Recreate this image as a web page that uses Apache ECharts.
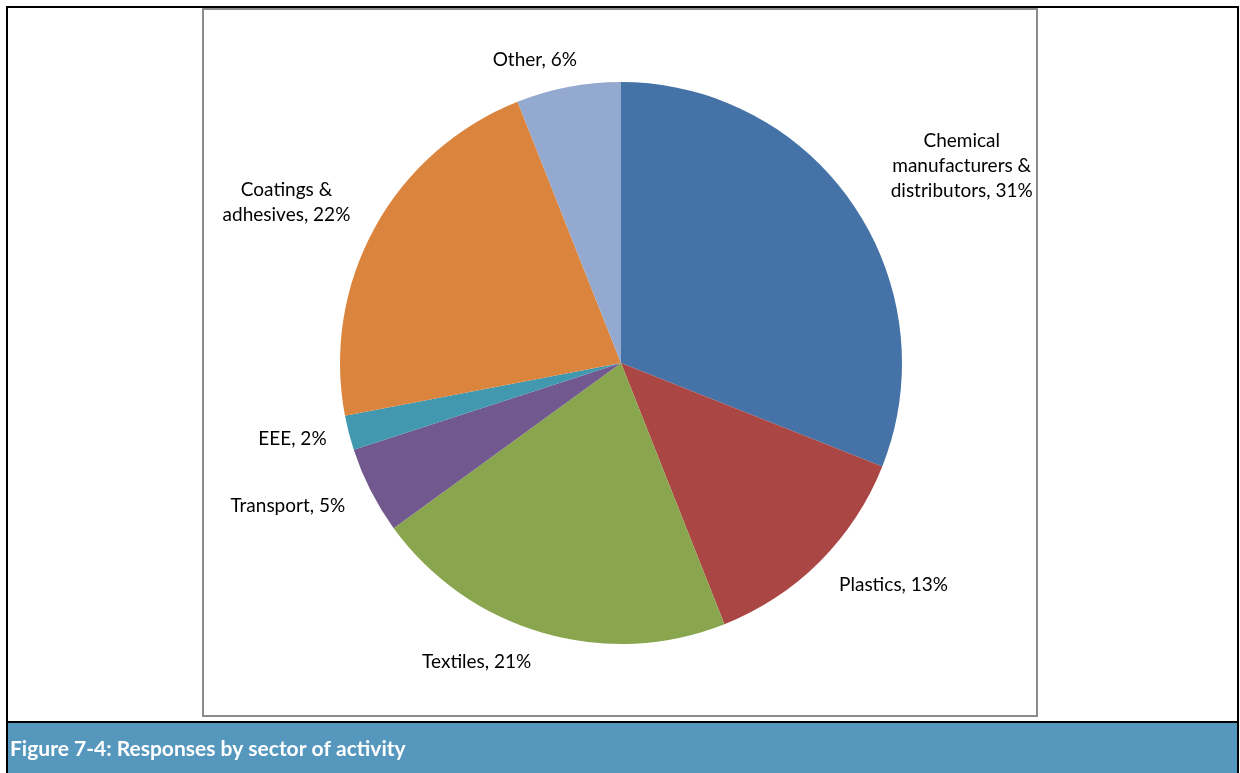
<!DOCTYPE html>
<html>
<head>
<meta charset="utf-8">
<title>Figure 7-4: Responses by sector of activity</title>
<script src="https://cdn.jsdelivr.net/npm/echarts@6/dist/echarts.min.js"></script>
<style>
  html, body { margin: 0; padding: 0; background: #ffffff; }
  #chart { width: 1240px; height: 773px; }
</style>
</head>
<body>
<div id="chart"></div>
<script>
// Sector shares (percent of responses)
const sectors = [
  'Chemical\nmanufacturers &\ndistributors',
  'Plastics',
  'Textiles',
  'Transport',
  'EEE',
  'Coatings &\nadhesives',
  'Other'
];
const shares = [31, 13, 21, 5, 2, 22, 6];
const sliceColors = ['#4572A7', '#AA4643', '#89A54E', '#71588F', '#4198AF', '#DB843D', '#93A9CF'];
const captionText = 'Figure 7-4: Responses by sector of activity';

// Pie geometry (pixels)
const CX = 621, CY = 363, R = 281;

// Label placement: angular nudge (degrees) from the slice mid-angle, and distance in radii
const labelNudge = [-4.2, 5.9, -9.6, -3.8, -1.4, 3.2, 5.1];
const labelDist  = [1.40, 1.25, 1.18, 1.29, 1.20, 1.32, 1.12];

const total = shares.reduce((a, b) => a + b, 0);
const midAngles = [];
{
  let acc = 0;
  shares.forEach(v => {
    midAngles.push(90 - (acc + v / 2) / total * 360);
    acc += v;
  });
}

const chart = echarts.init(document.getElementById('chart'), null, { renderer: 'canvas' });

const FONT = 'Lato, "Open Sans", "Liberation Sans", sans-serif';

chart.setOption({
  animation: false,
  backgroundColor: '#ffffff',
  graphic: [
    // outer table frame
    { type: 'line', shape: { x1: 7, y1: 6, x2: 7, y2: 773 }, style: { stroke: '#000', lineWidth: 2 }, z: 10 },
    { type: 'line', shape: { x1: 1238, y1: 6, x2: 1238, y2: 773 }, style: { stroke: '#000', lineWidth: 2 }, z: 10 },
    { type: 'line', shape: { x1: 6, y1: 7, x2: 1239, y2: 7 }, style: { stroke: '#000', lineWidth: 2 }, z: 10 },
    { type: 'line', shape: { x1: 6, y1: 722, x2: 1239, y2: 722 }, style: { stroke: '#000', lineWidth: 2 }, z: 10 },
    // caption band
    { type: 'rect', shape: { x: 8, y: 723, width: 1229, height: 50 }, style: { fill: '#5597BD' }, z: 5 },
    {
      type: 'text', x: 10, y: 749, z: 11,
      style: {
        text: captionText, fill: '#ffffff',
        font: 'bold 21px ' + FONT,
        verticalAlign: 'middle', align: 'left'
      }
    },
    // chart area border
    { type: 'rect', shape: { x: 203, y: 9, width: 834, height: 707 }, style: { fill: 'none', stroke: '#8C8C8C', lineWidth: 2 }, z: 12 }
  ],
  series: [{
    type: 'pie',
    center: [CX, CY],
    radius: R,
    startAngle: 90,
    clockwise: true,
    avoidLabelOverlap: false,
    data: sectors.map((name, i) => ({ name, value: shares[i], itemStyle: { color: sliceColors[i] } })),
    itemStyle: { borderWidth: 0 },
    emphasis: { disabled: true },
    label: {
      show: true,
      position: 'outside',
      formatter: p => p.name + ', ' + p.value + '%',
      color: '#000000',
      fontFamily: FONT,
      fontSize: 19,
      lineHeight: 25
    },
    labelLine: { show: false },
    labelLayout: function (params) {
      const i = params.dataIndex;
      const a = (midAngles[i] + labelNudge[i]) * Math.PI / 180;
      const d = labelDist[i] * R;
      return {
        x: CX + d * Math.cos(a),
        y: CY - d * Math.sin(a),
        align: 'center',
        verticalAlign: 'middle'
      };
    }
  }]
});
</script>
</body>
</html>
